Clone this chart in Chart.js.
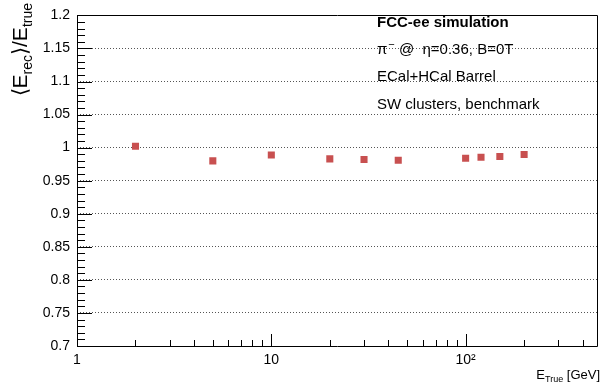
<!DOCTYPE html>
<html>
<head>
<meta charset="utf-8">
<script src="https://cdn.jsdelivr.net/npm/chart.js@4/dist/chart.umd.min.js"></script>
<style>
  html, body { margin: 0; padding: 0; background: #fff; }
  #wrap { width: 603px; height: 382px; }
</style>
</head>
<body>
<div id="wrap"><canvas id="c" width="603" height="382"></canvas></div>
<script>
// ---- data ----
const energies = [2, 5, 10, 20, 30, 45, 100, 120, 150, 200];
const response = [1.002, 0.980, 0.989, 0.983, 0.982, 0.981, 0.984, 0.9855, 0.9867, 0.9895];
const xTickValues = [1,2,3,4,5,6,7,8,9,10,20,30,40,50,60,70,80,90,100,200,300,400];
const xTickLabels = {1: '1', 10: '10', 100: '10\u00B2'};
const annotations = ['FCC-ee simulation', ' @  \u03B7=0.36, B=0T', 'ECal+HCal Barrel', 'SW clusters, benchmark'];

const FONT = '"Liberation Sans", Arial, Helvetica, sans-serif';

const decor = {
  id: 'decor',
  afterDraw(chart) {
    const ctx = chart.ctx;
    const a = chart.chartArea;
    const xs = chart.scales.x, ys = chart.scales.y;
    ctx.save();
    ctx.strokeStyle = '#000';
    ctx.lineWidth = 1;
    // frame
    ctx.beginPath();
    ctx.rect(Math.round(a.left) + 0.5, Math.round(a.top) + 0.5, Math.round(a.right - a.left) - 1, Math.round(a.bottom - a.top));
    ctx.stroke();
    // y ticks (inside)
    ctx.beginPath();
    for (let i = 0; i <= 50; i++) {
      const v = 0.7 + i * 0.01;
      const y = Math.round(ys.getPixelForValue(v)) + 0.5;
      const len = (i % 5 === 0) ? 15 : 8;
      ctx.moveTo(a.left, y); ctx.lineTo(a.left + len, y);
    }
    ctx.stroke();
    // x ticks (inside)
    ctx.beginPath();
    xTickValues.forEach(v => {
      const x = Math.round(xs.getPixelForValue(v)) + 0.5;
      const len = (v === 1 || v === 10 || v === 100) ? 12 : 6;
      ctx.moveTo(x, a.bottom); ctx.lineTo(x, a.bottom - len);
    });
    ctx.stroke();

    // annotations
    ctx.fillStyle = '#000';
    ctx.textBaseline = 'middle';
    ctx.textAlign = 'left';
    const ys0 = [23, 50, 77, 105];
    annotations.forEach((t, i) => {
      ctx.font = (i === 0 ? 'bold ' : '') + '15px ' + FONT;
      let x = 377;
      if (i === 1) {
        ctx.fillText('\u03C0', x, ys0[i]);
        x += ctx.measureText('\u03C0').width + 1;
        ctx.font = '11px ' + FONT;
        ctx.fillText('\u2212', x, ys0[i] - 5);
        x += ctx.measureText('\u2212').width;
        ctx.font = '15px ' + FONT;
      }
      ctx.fillText(t, x, ys0[i]);
    });

    // x title: E_True [GeV], right aligned at plot right
    ctx.textBaseline = 'alphabetic';
    const big = '13px ' + FONT, small = '9px ' + FONT;
    ctx.font = big; const wE = ctx.measureText('E').width;
    ctx.font = small; const wT = ctx.measureText('True').width;
    ctx.font = big; const wG = ctx.measureText(' [GeV]').width;
    let x0 = 600 - (wE + wT + wG);
    const by = 379;
    ctx.font = big; ctx.fillText('E', x0, by); x0 += wE;
    ctx.font = small; ctx.fillText('True', x0, by + 3); x0 += wT;
    ctx.font = big; ctx.fillText(' [GeV]', x0, by);

    // y title rotated
    ctx.save();
    ctx.translate(27, 0);
    ctx.rotate(-Math.PI / 2);
    const B = '21px ' + FONT, S = '14px ' + FONT;
    const parts = [['\u27E8', B, 0], ['E', B, 0], ['rec', S, 5], ['\u27E9', B, 0], ['/E', B, 0], ['true', S, 5]];
    let total = 0;
    parts.forEach(p => { ctx.font = p[1]; p.push(ctx.measureText(p[0]).width); total += p[3]; });
    let u = -3 - total;
    parts.forEach(p => { ctx.font = p[1]; ctx.fillText(p[0], u, p[2]); u += p[3]; });
    ctx.restore();

    ctx.restore();
  }
};

new Chart(document.getElementById('c'), {
  type: 'scatter',
  data: {
    datasets: [{
      data: energies.map((e, i) => ({x: e, y: response[i]})),
      pointStyle: 'rect',
      pointRadius: 5,
      pointHoverRadius: 5,
      backgroundColor: 'rgb(200,80,80)',
      borderWidth: 0
    }]
  },
  options: {
    responsive: false,
    animation: false,
    layout: { padding: { top: 7, right: 3, left: 0, bottom: 0 } },
    plugins: { legend: { display: false }, tooltip: { enabled: false } },
    scales: {
      x: {
        type: 'logarithmic',
        min: 1, max: 480,
        afterBuildTicks(scale) { scale.ticks = xTickValues.map(v => ({value: v})); },
        afterFit(scale) { scale.height = 36; },
        ticks: {
          autoSkip: false, maxRotation: 0,
          color: '#000', font: { family: FONT, size: 14 }, padding: 6,
          callback(v) { return xTickLabels[v] || ''; }
        },
        grid: { display: false, drawTicks: false },
        border: { display: false }
      },
      y: {
        min: 0.7, max: 1.2,
        afterFit(scale) { scale.width = 77; },
        ticks: {
          stepSize: 0.05, color: '#000', font: { family: FONT, size: 14 }, padding: 7,
          callback(v) { return String(Math.round(v * 100) / 100); }
        },
        grid: {
          drawTicks: false,
          color(ctx) {
            const v = ctx.tick ? ctx.tick.value : 0;
            return (Math.abs(v - 0.7) < 1e-6 || Math.abs(v - 1.2) < 1e-6) ? 'rgba(0,0,0,0)' : '#555';
          },
          lineWidth: 1
        },
        border: { display: false, dash: [1, 2] }
      }
    }
  },
  plugins: [decor]
});
</script>
</body>
</html>
